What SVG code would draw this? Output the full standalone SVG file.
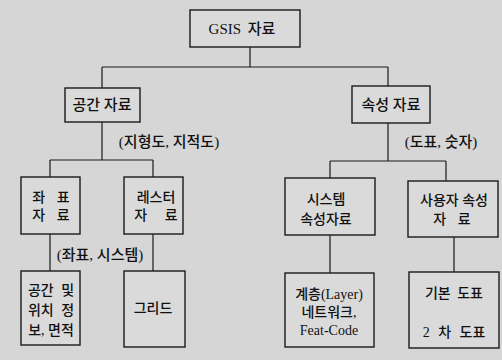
<svg xmlns="http://www.w3.org/2000/svg" width="502" height="360" viewBox="0 0 502 360">
<defs>
<style>
.bg{fill:#d6d6d6}
.box{fill:#dadada;stroke:#1a1a1a;stroke-width:1.4}
.t{font-family:"Liberation Serif","Noto Sans CJK KR",serif;font-size:14px;font-weight:500;fill:#111;text-anchor:middle}
.lbl{font-family:"Liberation Serif","Noto Sans CJK KR",serif;font-size:15px;font-weight:500;fill:#111;text-anchor:middle}
.big{font-size:15px}
.c{fill:none;stroke:#1a1a1a;stroke-width:1.2}
</style>
</defs>
<rect class="bg" x="0" y="0" width="502" height="360"/>
<g id="connectors">
<path class="c" d="M250,47 V67 M102,67 H388 M102,67 V88 M388,67 V86"/>
<path class="c" d="M102,122 V160 M50,160 H153 M50,160 V177 M153,160 V177"/>
<path class="c" d="M388,123 V161 M330,161 H446 M330,161 V178 M446,161 V181"/>
<path class="c" d="M50,234 V271 M153,234 V271 M330,235 V273 M454,237 V272"/>
<text class="lbl" x="169" y="147">(지형도, 지적도)</text>
<text class="lbl" x="441" y="147">(도표, 숫자)</text>
<text class="lbl" x="100" y="260">(좌표, 시스템)</text>
</g>
<g id="gsis">
<rect class="box" x="190" y="10" width="110" height="37"/>
<text class="t big" x="242" y="34" word-spacing="3">GSIS 자료</text>
</g>
<g id="spatial">
<rect class="box" x="65" y="88" width="75" height="34"/>
<text class="t big" x="102" y="110">공간 자료</text>
</g>
<g id="attribute">
<rect class="box" x="352" y="86" width="78" height="37"/>
<text class="t big" x="391" y="110">속성 자료</text>
</g>
<g id="coord">
<rect class="box" x="21" y="177" width="59" height="57"/>
<text class="t" x="51" y="202" word-spacing="8">좌 표</text>
<text class="t" x="51" y="220" word-spacing="8">자 료</text>
</g>
<g id="raster">
<rect class="box" x="124" y="177" width="59" height="57"/>
<text class="t" x="156" y="202">레스터</text>
<text class="t" x="156" y="220" word-spacing="14">자 료</text>
</g>
<g id="sysattr">
<rect class="box" x="285" y="178" width="90" height="57"/>
<text class="t" x="326" y="204">시스템</text>
<text class="t" x="326" y="224">속성자료</text>
</g>
<g id="userattr">
<rect class="box" x="408" y="181" width="90" height="56"/>
<text class="t" x="454" y="205">사용자 속성</text>
<text class="t" x="452" y="224" word-spacing="8">자 료</text>
</g>
<g id="spaceinfo">
<rect class="box" x="21" y="271" width="59" height="74"/>
<text class="t" x="51" y="295" word-spacing="4">공간 및</text>
<text class="t" x="51" y="315" word-spacing="4">위치 정</text>
<text class="t" x="51" y="335">보, 면적</text>
</g>
<g id="grid">
<rect class="box" x="124" y="271" width="61" height="76"/>
<text class="t" x="153" y="313">그리드</text>
</g>
<g id="layer">
<rect class="box" x="285" y="273" width="89" height="74"/>
<text class="t" x="329" y="299">계층(Layer)</text>
<text class="t" x="329" y="317">네트워크,</text>
<text class="t" x="329" y="335">Feat-Code</text>
</g>
<g id="tables">
<rect class="box" x="409" y="272" width="90" height="76"/>
<text class="t" x="454" y="298" word-spacing="3">기본 도표</text>
<text class="t" x="454" y="337" word-spacing="5">2 차 도표</text>
</g>
</svg>
